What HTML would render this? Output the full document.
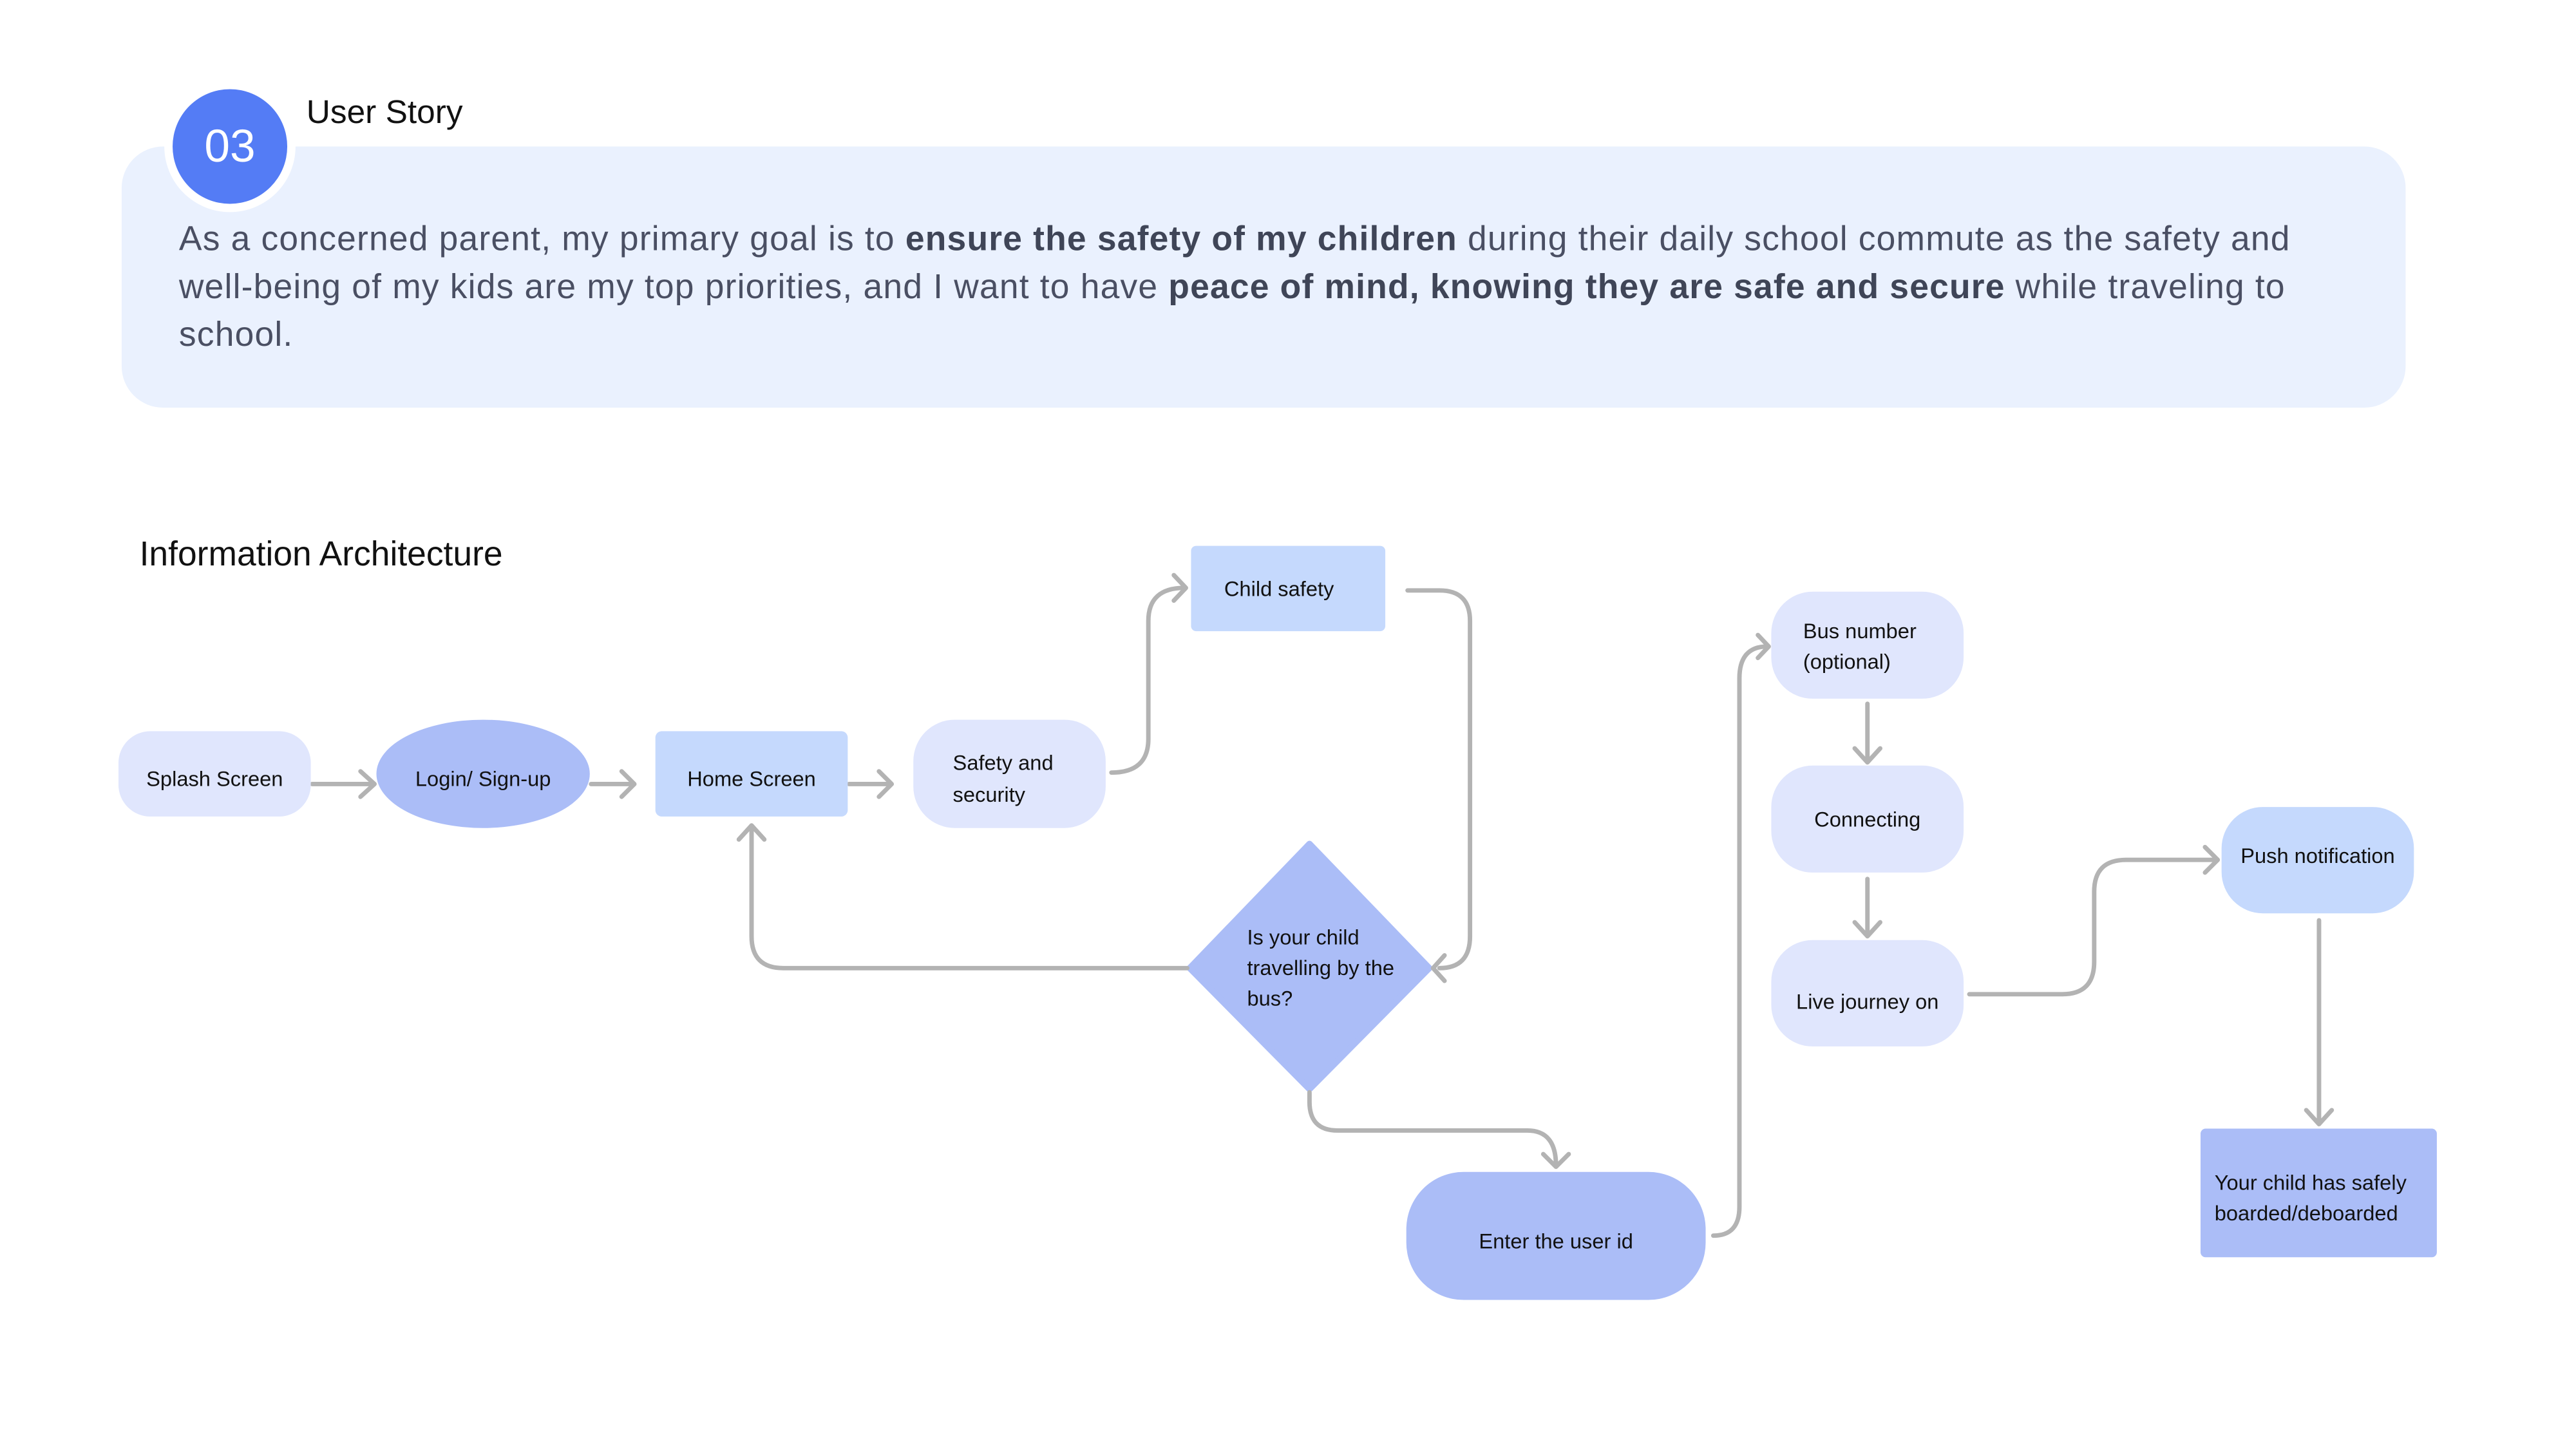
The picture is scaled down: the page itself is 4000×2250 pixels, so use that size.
<!DOCTYPE html>
<html><head><meta charset="utf-8"><style>
*{margin:0;padding:0;box-sizing:border-box}
body{width:4000px;height:2250px;background:#fff;position:relative;overflow:hidden;font-family:"Liberation Sans",sans-serif}
#w{position:absolute;left:0;top:0;width:4000px;height:2250px;transform:scale(0.989);transform-origin:0 0}
.a{position:absolute}
.n{position:absolute;display:flex;align-items:center;font-size:33px;color:#111;line-height:48px;padding-top:16px}
.c{justify-content:center;text-align:center}
.story{position:absolute;left:281px;top:338px;font-size:54px;line-height:75px;color:#4a4f63;white-space:nowrap;letter-spacing:1.2px}
.story b{color:#3f4557}
</style></head><body><div id="w">
<div class="a" style="left:191px;top:230px;width:3586px;height:410px;background:#eaf1fe;border-radius:65px"></div>
<div class="a" style="left:258px;top:127px;width:206px;height:206px;border-radius:50%;background:#fff"></div>
<div class="a" style="left:271px;top:140px;width:180px;height:180px;border-radius:50%;background:#547cf5;color:#fff;font-size:72px;display:flex;align-items:center;justify-content:center">03</div>
<div class="a" style="left:481px;top:146px;font-size:52px;color:#111">User Story</div>
<div class="story">As a concerned parent, my primary goal is to <b>ensure the safety of my children</b> during their daily school commute as the safety and<br>well-being of my kids are my top priorities, and I want to have <b>peace of mind, knowing they are safe and secure</b> while traveling to<br>school.</div>
<div class="a" style="left:219px;top:839px;font-size:54px;color:#111">Information Architecture</div>

<svg class="a" style="left:0;top:0" width="4000" height="2250" fill="none" stroke="#b3b3b3" stroke-width="7" stroke-linecap="round" stroke-linejoin="round">
<path d="M2056 1325 L2244 1520 L2056 1710 L1868 1520 Z" fill="#abbdf7" stroke="#abbdf7" stroke-width="10"/>
<path d="M490 1231 H585 M566 1211 L588 1231 L566 1251"/>
<path d="M928 1231 H992 M976 1211 L996 1231 L976 1251"/>
<path d="M1333 1231 H1398 M1380 1211 L1400 1231 L1380 1251"/>
<path d="M1745 1213 Q1803 1213 1803 1160 V975 Q1803 923 1860 923 M1843 903 L1862 923 L1843 943"/>
<path d="M2210 927 H2260 Q2308 927 2308 975 V1470 Q2308 1520 2260 1520 M2268 1500 L2250 1520 L2268 1540"/>
<path d="M1864 1520 H1230 Q1180 1520 1180 1470 V1297 M1160 1318 L1180 1296 L1200 1318"/>
<path d="M2056 1715 V1730 Q2056 1775 2100 1775 H2398 Q2443 1775 2443 1830 M2423 1812 L2443 1832 L2463 1812"/>
<path d="M2690 1940 Q2731 1940 2731 1895 V1065 Q2731 1015 2775 1015 M2760 997 L2777 1015 L2760 1033"/>
<path d="M2932 1105 V1195 M2912 1175 L2932 1197 L2952 1175"/>
<path d="M2932 1380 V1468 M2912 1448 L2932 1470 L2952 1448"/>
<path d="M3092 1561 H3238 Q3288 1561 3288 1510 V1400 Q3288 1350 3338 1350 H3480 M3462 1330 L3482 1350 L3462 1370"/>
<path d="M3641 1445 V1763 M3621 1743 L3641 1765 L3661 1743"/>
</svg>

<div class="n c" style="left:186px;top:1148px;width:302px;height:134px;background:#e0e6fd;border-radius:50px">Splash Screen</div>
<div class="n c" style="left:591px;top:1130px;width:335px;height:170px;background:#abbdf7;border-radius:50%">Login/ Sign-up</div>
<div class="n c" style="left:1029px;top:1148px;width:302px;height:134px;background:#c5d9fd;border-radius:10px">Home Screen</div>
<div class="n" style="left:1434px;top:1130px;width:302px;height:170px;background:#e0e6fd;border-radius:65px;padding-left:62px;line-height:50px">Safety and<br>security</div>
<div class="n" style="left:1870px;top:857px;width:305px;height:134px;background:#c5d9fd;border-radius:8px;padding-left:52px;padding-bottom:14px">Child safety</div>
<div class="n" style="left:1958px;top:1427px;width:300px;height:170px;line-height:48px">Is your child<br>travelling by the<br>bus?</div>
<div class="n c" style="left:2208px;top:1840px;width:470px;height:201px;background:#abbdf7;border-radius:90px">Enter the user id</div>
<div class="n" style="left:2781px;top:929px;width:302px;height:168px;background:#e0e6fd;border-radius:65px;padding-left:50px;padding-bottom:12px">Bus number<br>(optional)</div>
<div class="n c" style="left:2781px;top:1202px;width:302px;height:168px;background:#e0e6fd;border-radius:65px;padding-bottom:14px">Connecting</div>
<div class="n c" style="left:2781px;top:1476px;width:302px;height:167px;background:#e0e6fd;border-radius:65px;padding-top:26px">Live journey on</div>
<div class="n c" style="left:3488px;top:1267px;width:302px;height:167px;background:#c5d9fd;border-radius:65px;padding-bottom:30px">Push notification</div>
<div class="n" style="left:3455px;top:1772px;width:371px;height:202px;background:#abbdf7;border-radius:8px;padding-left:22px">Your child has safely<br>boarded/deboarded</div>
</div></body></html>
